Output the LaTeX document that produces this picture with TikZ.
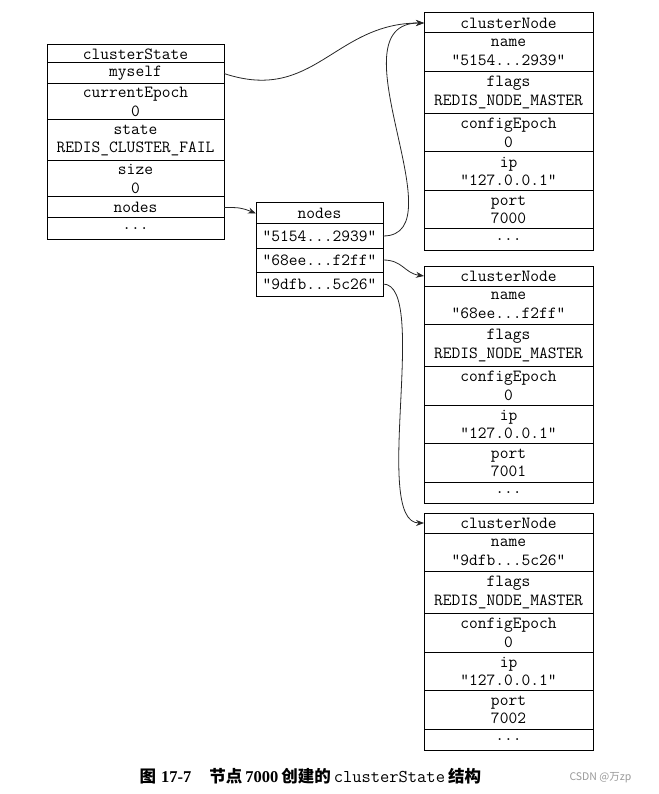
\documentclass[tikz,border=0pt]{standalone}
\usepackage{fontspec}
\setmainfont{Liberation Serif}
\newfontfamily\cjk{Noto Sans CJK SC}
\usetikzlibrary{positioning,arrows.meta}

\tikzset{
  field/.style={draw, line width=1pt, outer sep=0pt, inner sep=0pt, align=center,
    font=\fontsize{17}{18.5}\selectfont\ttfamily},
  head/.style={field, minimum height=20pt},
  one/.style={field, minimum height=21pt},
  two/.style={field, minimum height=38.5pt},
  tall/.style={field, minimum height=42pt},
  link/.style={draw=black!85, line width=0.8pt, -{Stealth[length=8pt,width=6pt]}},
}

\begin{document}
\begin{tikzpicture}[x=1pt, y=-1pt]
	\useasboundingbox (0,0) rectangle (658,794);

	% clusterState
	\begin{scope}[every node/.append style={minimum width=177pt},
			head/.append style={minimum height=18pt},
			two/.append style={minimum height=36pt},
			tall/.append style={minimum height=41pt}]
		\node[head, anchor=north west] (s0) at (47,45) {clusterState};
		\node[one, below=0pt of s0] (s1) {myself};
		\node[two, below=0pt of s1] (s2) {currentEpoch\\0};
		\node[tall, below=0pt of s2] (s3) {state\\REDIS\_CLUSTER\_FAIL};
		\node[two, below=0pt of s3] (s4) {size\\0};
		\node[one, below=0pt of s4] (s5) {nodes};
		\node[one, below=0pt of s5] (s6) {...};
	\end{scope}

	% nodes dict
	\begin{scope}[every node/.append style={minimum width=127pt},
			one/.append style={minimum height=24pt}]
		\node[head, anchor=north west, minimum height=21pt] (n0) at (256,203) {nodes};
		\node[one, below=0pt of n0] (n1) {"5154...2939"};
		\node[one, below=0pt of n1] (n2) {"68ee...f2ff"};
		\node[one, below=0pt of n2] (n3) {"9dfb...5c26"};
	\end{scope}

	% clusterNode
	\begin{scope}[every node/.append style={minimum width=169pt}]
		\foreach \k/\top/\ida/\idb/\port in {1/13/5154/2939/7000, 2/266/68ee/f2ff/7001, 3/513/9dfb/5c26/7002} {
			\node[head, anchor=north west] (c\k h) at (424,\top) {clusterNode};
			\node[two, below=0pt of c\k h] (c\k a) {name\\"\ida...\idb"};
			\node[tall, below=0pt of c\k a] (c\k b) {flags\\REDIS\_NODE\_MASTER};
			\node[two, below=0pt of c\k b] (c\k c) {configEpoch\\0};
			\node[two, below=0pt of c\k c] (c\k d) {ip\\"127.0.0.1"};
			\node[two, below=0pt of c\k d] (c\k e) {port\\\port};
			\node[one, below=0pt of c\k e] (c\k f) {...};
		}
	\end{scope}

	\draw[link] (s1.east) .. controls +(90,30) and +(-90,0) .. (c1h.west);
	\draw[link] (s5.east) .. controls +(15,0) and +(-15,-6) .. (n0.west);
	\draw[link] (n1.east) .. controls +(77,0) and +(-94,0) .. (c1h.west);
	\draw[link] (n2.east) .. controls +(20,0) and +(-20,-3) .. (c2h.west);
	\draw[link] (n3.east) .. controls +(47,0) and +(-53,0) .. (c3h.west);

	\node[anchor=west, font=\fontsize{16.5}{18}\selectfont\bfseries] (cap) at (136,776)
		{{\cjk 图}\hspace{5pt}17-7\hspace{18pt}{\cjk 节点}\hspace{3pt}7000\hspace{3pt}{\cjk 创建的}\hspace{3pt}{\mdseries\ttfamily\fontsize{18}{18}\selectfont clusterState}\hspace{3pt}{\cjk 结构}};
	\node[anchor=west, text=black!40, font=\cjk\fontsize{10.5}{12}\selectfont] (wm) at (566,778) {CSDN @万zp};
\end{tikzpicture}
\end{document}
